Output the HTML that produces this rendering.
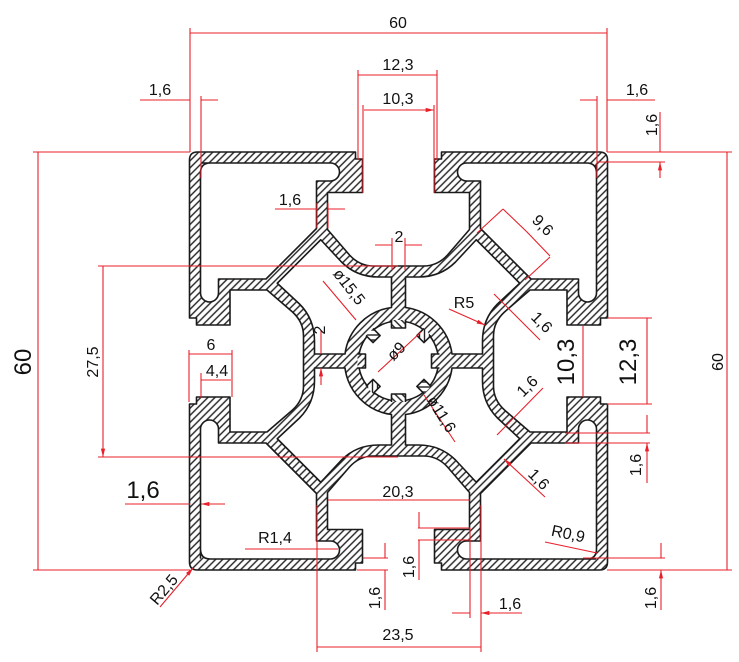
<!DOCTYPE html>
<html><head><meta charset="utf-8"><style>
html,body{margin:0;padding:0;background:#fff;}
svg{display:block;}
text{font-family:"Liberation Sans",sans-serif;fill:#111;}
</style></head><body>
<svg width="739" height="662" viewBox="0 0 739 662" xmlns="http://www.w3.org/2000/svg">
<defs>
<pattern id="h" width="5" height="5" patternUnits="userSpaceOnUse" patternTransform="rotate(45)">
<rect width="5" height="5" fill="#fff"/>
<line x1="1" y1="0" x2="1" y2="5" stroke="#222" stroke-width="1.4"/>
</pattern>
<marker id="a" viewBox="0 -3 10 6" refX="10" refY="0" markerWidth="9" markerHeight="5" markerUnits="userSpaceOnUse" orient="auto-start-reverse">
<path d="M0,-2.5 L10,0 L0,2.5 z" fill="#e8202a"/>
</marker>
<path id="cc" d="M-197,-198 L-68,-198 A9 9 0 0 1 -68,-180 L-82,-180 L-82,-132.5 L-132.5,-82 L-180,-82 L-180,-68 A9 9 0 0 1 -198,-68 L-198,-188 Q-198,-198 -188,-198 Z"/>
<path id="ic" d="M-7,-84 L-20,-84 Q-42,-84 -57,-99 L-77.75,-121.25 L-121.25,-77.75 L-99,-57 Q-84,-42 -84,-20 L-84,-7 L-53.5,-7 A54 54 0 0 1 -7,-53.5 Z"/>
<path id="tw" d="M41,-5 L31,-5 L31,5 L41,5"/>
<path id="tn" d="M41,-7 L33,-7 L33,7 L41,7"/>
</defs>

<g transform="translate(398.5,361)" stroke="#1a1a1a" stroke-width="1.6" stroke-linejoin="round">
<path fill="url(#h)" d="M0,-95 L-25,-95 Q-39,-95 -49,-106 L-71,-131.5 L-71,-168.5 L-36,-168.5 L-36,-202 L-43,-202 L-43,-209 L-201,-209 Q-209,-209 -209,-201 L-209,-43 L-202,-43 L-202,-36 L-168.5,-36 L-168.5,-71 L-131.5,-71 L-106,-49 Q-95,-39 -95,-25 L-95,0
L-95,25 Q-95,39 -106,49 L-131.5,71 L-168.5,71 L-168.5,36 L-202,36 L-202,43 L-209,43 L-209,201 Q-209,209 -201,209 L-43,209 L-43,202 L-36,202 L-36,168.5 L-71,168.5 L-71,131.5 L-49,106 Q-39,95 -25,95 L0,95
L25,95 Q39,95 49,106 L71,131.5 L71,168.5 L36,168.5 L36,202 L43,202 L43,209 L201,209 Q209,209 209,201 L209,43 L202,43 L202,36 L168.5,36 L168.5,71 L131.5,71 L106,49 Q95,39 95,25 L95,0
L95,-25 Q95,-39 106,-49 L131.5,-71 L168.5,-71 L168.5,-36 L202,-36 L202,-43 L209,-43 L209,-201 Q209,-209 201,-209 L43,-209 L43,-202 L36,-202 L36,-168.5 L71,-168.5 L71,-131.5 L49,-106 Q39,-95 25,-95 Z"/>
<g fill="#fff">
<use href="#cc"/><use href="#cc" transform="rotate(90)"/><use href="#cc" transform="rotate(180)"/><use href="#cc" transform="rotate(270)"/>
<use href="#ic"/><use href="#ic" transform="rotate(90)"/><use href="#ic" transform="rotate(180)"/><use href="#ic" transform="rotate(270)"/>
<circle r="40"/>
</g>
<g fill="url(#h)">
<use href="#tn"/><use href="#tn" transform="rotate(90)"/><use href="#tn" transform="rotate(180)"/><use href="#tn" transform="rotate(270)"/>
<use href="#tw" transform="rotate(45)"/><use href="#tw" transform="rotate(135)"/><use href="#tw" transform="rotate(225)"/><use href="#tw" transform="rotate(315)"/>
</g>
</g>

<g stroke="#e8202a" stroke-width="1.1" fill="none">
<!-- extension lines -->
<path d="M190,28V152 M607,28V152 M358,70V160 M437,70V160 M363,105V193 M434,105V193 M201,96V178 M597,96V178
M607,152H732 M597,162H665 M607,570H732 M33,152H190 M33,570H190 M98,266H398 M98,457H398
M189,350V402 M201,373V398 M232,350V397 M392,238V270 M405,238V270 M317,203V228 M328,203V228
M477,233L503,209 M525,280L550,257 M607,318H652 M607,404H652 M565,433H650 M565,443H650
M317,505V652 M481,505V652 M418,528H470 M418,540H470 M363,558H388 M357,570H388 M470,528V618 M481,540V618 M583,558H665"/>
</g>
<g stroke="#e8202a" stroke-width="1.1" fill="none" marker-end="url(#a)">
<path d="M398,33H190 M398,33H607 M398,75H358 M398,75H437 M398,110H364 M398,110H434"/>
<path d="M140,100H190 M218,100H201 M655,100H607 M580,100H597 M660,112V152 M660,178V162"/>
<path d="M727,362V152 M727,362V570 M38,362V152 M38,362V570 M103,362V266 M103,362V457"/>
<path d="M211,354H189 M211,354H232 M216,380H201 M216,380H231 M125,504H190 M225,504H201"/>
<path d="M375,245H392 M422,245H405 M275,209H317 M345,209H328 M321,330V354 M321,385V368"/>
<path d="M323,281L356,320 M378,372L421,332 M455,442L424,395 M449,309L485,325"/>
<path d="M527,232L503,209 M527,232L550,256 M540,340L494,294 M497,435L543,388 M545,497L504,459"/>
<path d="M583,362V326 M583,362V397 M647,362V318 M647,362V404 M647,415V433 M647,483V443"/>
<path d="M398,500H328 M398,500H470 M398,647H317 M398,647H481 M452,613H470 M522,613H481"/>
<path d="M419,512V528 M419,580V540 M385,543V558 M385,610V570 M661,543V558 M661,610V570"/>
<path d="M245,549H338 M545,542L597,553 M160,607L193,568"/>
</g>

<g font-size="16" text-anchor="middle">
<text x="398" y="28">60</text>
<text x="398" y="70">12,3</text>
<text x="398" y="104">10,3</text>
<text x="160" y="95">1,6</text>
<text x="637" y="95">1,6</text>
<text transform="translate(657,125) rotate(-90)">1,6</text>
<text transform="translate(723,362) rotate(-90)">60</text>
<text transform="translate(31,362) rotate(-90)" font-size="24">60</text>
<text transform="translate(98,362) rotate(-90)">27,5</text>
<text x="211" y="350">6</text>
<text x="217" y="376">4,4</text>
<text x="143" y="498" font-size="24">1,6</text>
<text x="399" y="242">2</text>
<text x="290" y="205">1,6</text>
<text transform="translate(345,290) rotate(52)">ø15,5</text>
<text transform="translate(325,330) rotate(-90)">2</text>
<text transform="translate(400,355) rotate(-45)">ø9</text>
<text transform="translate(437,417) rotate(58)">ø11,6</text>
<text x="464" y="308">R5</text>
<text transform="translate(539,229) rotate(45)">9,6</text>
<text transform="translate(538,326) rotate(45)">1,6</text>
<text transform="translate(531,390) rotate(-45)">1,6</text>
<text transform="translate(535,483) rotate(45)">1,6</text>
<text transform="translate(574,362) rotate(-90)" font-size="24">10,3</text>
<text transform="translate(636,362) rotate(-90)" font-size="24">12,3</text>
<text transform="translate(641,465) rotate(-90)">1,6</text>
<text x="398" y="497">20,3</text>
<text x="398" y="640">23,5</text>
<text x="510" y="609">1,6</text>
<text transform="translate(414,567) rotate(-90)">1,6</text>
<text transform="translate(380,598) rotate(-90)">1,6</text>
<text transform="translate(656,598) rotate(-90)">1,6</text>
<text x="275" y="543">R1,4</text>
<text transform="translate(567,539) rotate(12)">R0,9</text>
<text transform="translate(168,593) rotate(-50)">R2,5</text>
</g>
</svg>
</body></html>
